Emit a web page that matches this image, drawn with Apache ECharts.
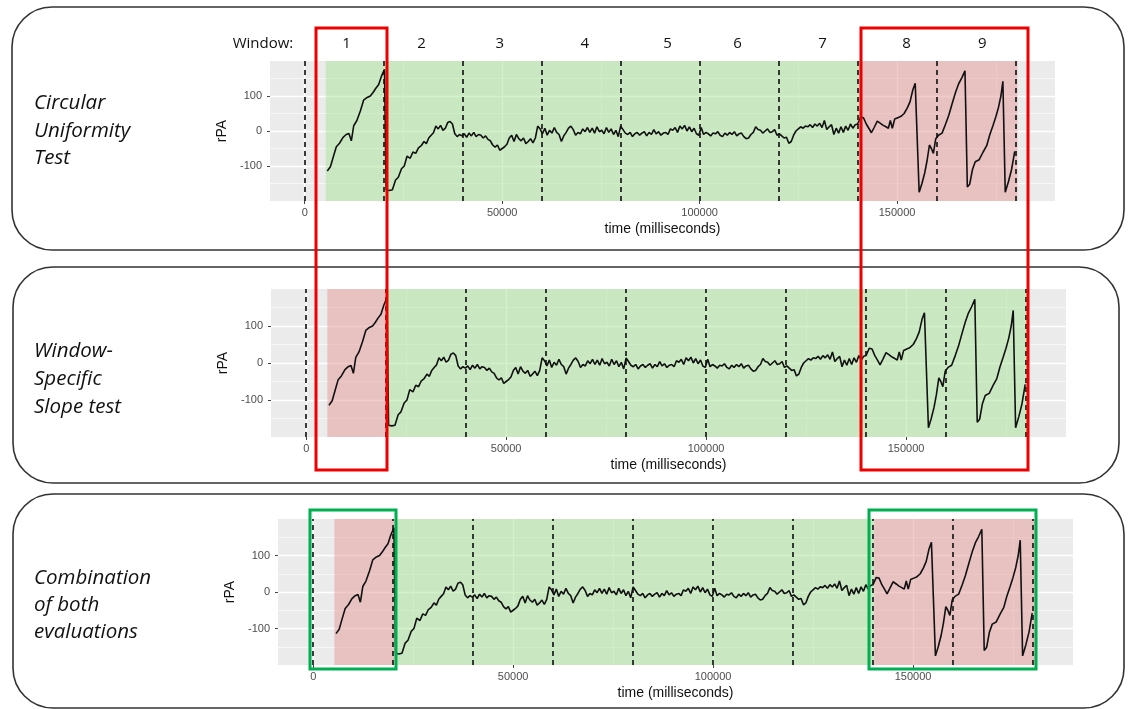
<!DOCTYPE html>
<html><head><meta charset="utf-8">
<script src="https://cdn.jsdelivr.net/npm/echarts@6/dist/echarts.min.js"></script>
<style>html,body{margin:0;padding:0;background:#fff}#c{width:1130px;height:709px}</style>
</head><body><div id="c"></div>
<script>
// ---------- DATA ----------
const timeMs = [
 5700,6500,7200,8000,8800,9700,10500,11200,11800,12400,13200,14100,14900,15800,16600,17300,18000,18700,19400,20200,
 20600,21400,22200,23000,23700,24500,25200,25900,26700,27400,28100,28800,29500,30200,30800,31400,32000,32600,33200,33800,
 34400,35000,35600,36200,36800,37400,38000,38600,39200,39800,40400,41000,41600,42200,42800,43400,44000,44600,45200,45800,
 46400,47000,47600,48200,48800,49400,50000,50600,51200,51800,52400,53000,53600,54200,54800,55400,56000,56600,57200,57800,
 58400,59000,59600,60200,60800,61400,62000,62600,63200,63800,64400,65000,65600,66200,66800,67400,68000,68600,69200,69800,
 70400,71000,71600,72200,72800,73400,74000,74600,75200,75800,76400,77000,77600,78200,78800,79400,80000,80600,81200,81800,
 82400,83000,83600,84200,84800,85400,86000,86600,87200,87800,88400,89000,89600,90200,90800,91400,92000,92600,93200,93800,
 94400,95000,95600,96200,96800,97400,98000,98600,99200,99800,100400,101000,101600,102200,102800,103400,104000,104600,105200,105800,
 106400,107000,107600,108200,108800,109400,110000,110600,111200,111800,112400,113000,113600,114200,114800,115400,116000,116600,117200,117800,
 118400,119000,119600,120200,120800,121400,122000,122600,123200,123800,124400,125000,125600,126200,126800,127400,128000,128600,129200,129800,
 130400,131000,131600,132200,132800,133400,134000,134600,135200,135800,136400,137000,137600,138200,138800,139400,140000,140800,141500,142200,
 143000,143500,144200,145000,145800,146500,147200,147800,148300,148800,149400,150200,151000,151800,152600,153300,154000,154600,155100,155600,
 156300,157000,157600,158200,158700,159200,159800,160500,161400,162300,163100,164000,164800,165600,166400,167200,167800,168400,169100,169800,
 170800,171800,172700,173500,174300,175000,175700,176300,176800,177400,178200,179000,179800
];
const rpa = [
 -114,-102,-75,-45,-35,-18,-10,-7,-28,15,30,58,88,96,100,110,122,132,156,176,
 -168,-170,-168,-140,-132,-108,-100,-72,-78,-60,-64,-48,-42,-30,-36,-20,-12,-5,14,6,
 16,2,8,24,27,20,-8,-16,-10,-14,-8,-18,-6,-14,-4,-16,-10,-12,-20,-14,
 -24,-28,-40,-46,-40,-55,-50,-45,-38,-20,-12,-30,-10,-22,-28,-20,-36,-30,-22,-34,
 -20,14,6,-8,8,-12,2,-6,10,-4,-10,-30,-14,-4,8,14,4,-12,-4,-8,
 6,-2,10,-4,8,-6,12,-2,2,-8,10,-4,6,-10,2,-16,14,4,-6,-10,
 -4,-16,-8,-4,-12,-6,-2,-14,-4,-10,4,-8,-2,-12,-6,-4,-10,6,2,10,
 -4,14,6,16,0,12,-2,8,-8,-12,10,-10,-4,-8,-14,-6,-8,-2,-12,-16,
 -6,-12,-4,-10,-2,-14,-8,-6,-16,-22,-20,-10,-4,12,4,2,-6,0,6,-4,
 -2,4,-12,-8,-14,-20,-18,-35,-30,-12,0,6,12,8,14,12,18,10,20,14,
 22,10,30,4,12,18,-10,8,-6,12,-4,14,2,20,8,18,20,40,38,20,
 5,-5,10,28,22,16,12,8,30,8,34,38,42,50,66,84,118,136,140,-175,
 -150,-120,-85,-40,-50,-64,-22,-12,-6,20,45,80,110,135,152,172,-160,-152,-110,-88,
 -82,-60,-42,-10,16,40,68,100,142,-175,-145,-110,-58
];
const windowBoundsMs = [0,20000,40000,60000,80000,100000,120000,140000,160000,180000];
const xTickValues = [0,50000,100000,150000];
const xMinorValues = [25000,75000,125000,175000];
const yTickValues = [-100,0,100];
const windowLabels = ['1','2','3','4','5','6','7','8','9'];
const windowLabelPosMs = [10600,29600,49400,70900,91900,109600,131100,152400,171600];
const panelTitles = [
  ['Circular','Uniformity','Test'],
  ['Window-','Specific','Slope test'],
  ['Combination','of both','evaluations']
];
// [start ms, end ms, verdict]
const panelRegions = [
  [[5300,140300,'pass'],[140300,180500,'fail']],
  [[5300,20400,'fail'],[20400,180500,'pass']],
  [[5300,20400,'fail'],[20400,140300,'pass'],[140300,180500,'fail']]
];

// ---------- STYLE / LAYOUT ----------
const X_MIN = -8800, X_MAX = 190000, Y_MIN = -200, Y_MAX = 200;
const grids = [
  {left:270, top:61, width:785, height:140},
  {left:271, top:289, width:795, height:148},
  {left:278, top:519, width:795, height:146}
];
const PASS = 'rgba(170,231,158,0.52)';
const FAIL = 'rgba(231,155,155,0.52)';
const lineData = timeMs.map((t,i)=>[t,rpa[i]]);

const chart = echarts.init(document.getElementById('c'), null, {renderer:'canvas'});
const xAxes = [], yAxes = [], series = [];
grids.forEach((g,i)=>{
  xAxes.push({
    type:'value', gridIndex:i, min:X_MIN, max:X_MAX, position:'bottom', z:0,
    name:'time (milliseconds)', nameLocation:'middle', nameGap:21,
    nameTextStyle:{fontFamily:'Liberation Sans', fontSize:14, color:'#111'},
    axisLine:{show:false, onZero:false},
    axisTick:{show:true, length:3, customValues:xTickValues, lineStyle:{color:'#444', width:1}},
    axisLabel:{customValues:xTickValues, fontFamily:'Liberation Sans', fontSize:11, color:'#4d4d4d', margin:6,
      formatter:(v)=>String(v)},
    splitLine:{show:true, lineStyle:{color:'#ffffff', width:1.3}}
  });
  yAxes.push({
    type:'value', gridIndex:i, min:Y_MIN, max:Y_MAX, interval:100, z:0,
    name:'rPA', nameLocation:'middle', nameGap:31, nameRotate:90,
    nameTextStyle:{fontFamily:'Liberation Sans', fontSize:14, color:'#111'},
    axisLine:{show:false, onZero:false},
    axisTick:{show:true, length:3, customValues:yTickValues, lineStyle:{color:'#444', width:1}},
    axisLabel:{customValues:yTickValues, fontFamily:'Liberation Sans', fontSize:11, color:'#4d4d4d', margin:8},
    splitLine:{show:true, lineStyle:{color:'#ffffff', width:1.3}},
    minorTick:{show:false, splitNumber:2},
    minorSplitLine:{show:true, lineStyle:{color:'#ffffff', width:0.6}}
  });
});
// minor vertical grid lines
grids.forEach((g,i)=>{
  xAxes.push({
    type:'value', gridIndex:i, min:X_MIN, max:X_MAX, position:'bottom', z:0,
    axisLine:{show:false, onZero:false}, axisLabel:{show:false},
    axisTick:{show:false, customValues:xMinorValues},
    splitLine:{show:true, lineStyle:{color:'#ffffff', width:0.6}}
  });
});
// window labels above top panel
xAxes.push({
  type:'value', gridIndex:0, min:X_MIN, max:X_MAX, position:'top', z:0,
  axisLine:{show:false, onZero:false}, axisTick:{show:false}, splitLine:{show:false},
  axisLabel:{customValues:windowLabelPosMs, margin:10, fontFamily:'Open Sans', fontSize:15, color:'#111',
    formatter:(v)=>windowLabels[windowLabelPosMs.indexOf(v)]}
});

grids.forEach((g,i)=>{
  series.push({
    type:'line', xAxisIndex:i, yAxisIndex:i, z:4, silent:true, data:lineData,
    showSymbol:false, lineStyle:{opacity:0},
    markArea:{silent:true, data: panelRegions[i].map(r=>[
      {xAxis:r[0], itemStyle:{color: r[2]==='pass'?PASS:FAIL}}, {xAxis:r[1]}
    ])}
  });
  series.push({
    type:'line', xAxisIndex:i, yAxisIndex:i, z:5, silent:true, data:[],
    markLine:{silent:true, symbol:'none', label:{show:false},
      lineStyle:{color:'#1a1a1a', width:1.7, type:[5,4]},
      data: windowBoundsMs.map(v=>({xAxis:v}))}
  });
  series.push({
    type:'line', xAxisIndex:i, yAxisIndex:i, z:6, data:lineData,
    showSymbol:false, smooth:false, animation:false,
    lineStyle:{color:'#111', width:1.6}
  });
});

const graphics = [];
// panel frames
[[12,7,1112,243],[13,267,1106,216],[13,494,1111,214]].forEach(r=>{
  graphics.push({type:'rect', shape:{x:r[0],y:r[1],width:r[2],height:r[3],r:40},
    style:{fill:null, stroke:'#333', lineWidth:1.6}, z:1});
});
// panel titles
const titleY = [[103,131,158],[351,379,407],[578,605,632]];
panelTitles.forEach((lines,p)=>{
  lines.forEach((s,k)=>{
    graphics.push({type:'text', x:34, y:titleY[p][k], z:5,
      style:{text:s, fontFamily:'Open Sans', fontStyle:'italic', fontSize:20.5, fill:'#111', verticalAlign:'middle', align:'left'}});
  });
});
graphics.push({type:'text', x:263, y:44, z:5,
  style:{text:'Window:', fontFamily:'Open Sans', fontSize:15, fill:'#111', align:'center', verticalAlign:'middle'}});
// highlight boxes
[[316,28,71,442],[861,28,167,442]].forEach(r=>{
  graphics.push({type:'rect', shape:{x:r[0],y:r[1],width:r[2],height:r[3]},
    style:{fill:null, stroke:'#ee0000', lineWidth:3}, z:10});
});
[[310,510,86,159],[869,510,167,159]].forEach(r=>{
  graphics.push({type:'rect', shape:{x:r[0],y:r[1],width:r[2],height:r[3]},
    style:{fill:null, stroke:'#00b050', lineWidth:3}, z:10});
});

chart.setOption({
  animation:false,
  backgroundColor:'#ffffff',
  grid: grids.map(g=>({left:g.left, top:g.top, width:g.width, height:g.height, show:true,
    backgroundColor:'#ebebeb', borderWidth:0, containLabel:false})),
  xAxis:xAxes, yAxis:yAxes, series:series, graphic:graphics
});
</script></body></html>
